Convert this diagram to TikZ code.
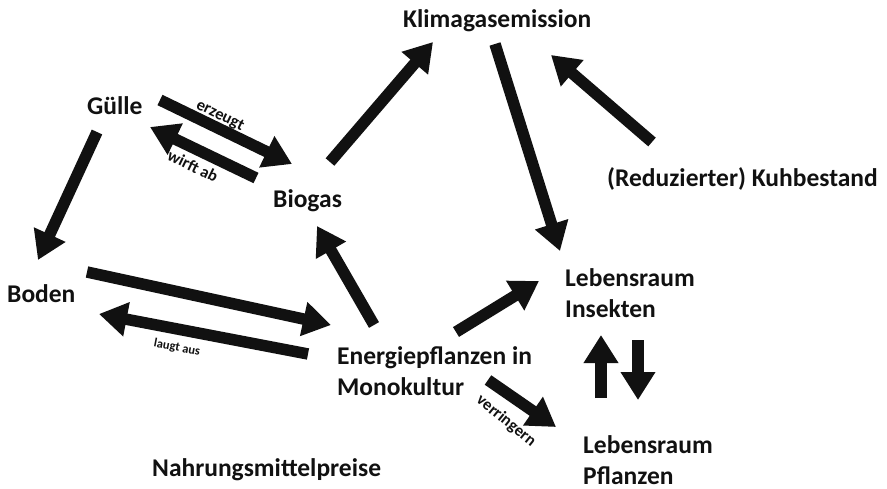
\documentclass[tikz,border=0pt]{standalone}
\usepackage{fontspec}
\setmainfont{Carlito}
\usetikzlibrary{arrows.meta}
\definecolor{ink}{HTML}{111111}
\tikzset{
  lbl/.style={font=\bfseries\fontsize{25.5}{31}\selectfont, text=ink, inner sep=0pt, align=left, anchor=base west},
  small/.style={font=\bfseries\fontsize{16.5}{17}\selectfont, text=ink, inner sep=0pt},
  bigarrow/.style={draw=ink, line width=11.5pt, -{Triangle[length=28pt,width=33pt]}},
}
\begin{document}
\begin{tikzpicture}[x=1pt,y=-1pt]
\useasboundingbox[fill=white] (0,0) rectangle (887,488);
% nodes (two-line nodes are placed by the baseline of their last line)
\node[lbl] (klima) at (403,27) {Klimagasemission};
\node[lbl] (guelle) at (87,114) {Gülle};
\node[lbl] (biogas) at (273,207) {Biogas};
\node[lbl] (kuh) at (607,186) {(Reduzierter) Kuhbestand};
\node[lbl] (insekten) at (565,317) {Lebensraum\\Insekten};
\node[lbl] (boden) at (7,302) {Boden};
\node[lbl] (energie) at (337,395) {Energiepflanzen in\\Monokultur};
\node[lbl] (pflanzen) at (583,484) {Lebensraum\\Pflanzen};
\node[lbl] (nahrung) at (152,476) {Nahrungsmittelpreise};
% arrow end points
\coordinate (g1) at (97,132);   \coordinate (b1) at (38,260);
\coordinate (g2) at (160,100);  \coordinate (bg2) at (292,164);
\coordinate (bg3) at (256,178); \coordinate (g3) at (150,127);
\coordinate (bg4) at (330,162); \coordinate (k4) at (433,42);
\coordinate (k5) at (495,44);   \coordinate (i5) at (560,251);
\coordinate (ku6) at (652,142); \coordinate (k6) at (551,55);
\coordinate (bo7) at (87,272);  \coordinate (e7) at (331,325);
\coordinate (e8) at (308,354);  \coordinate (bo8) at (99,314);
\coordinate (e9) at (374,325);  \coordinate (bg9) at (317,226);
\coordinate (e10) at (456,332); \coordinate (i10) at (539,281);
\coordinate (e11) at (488,380); \coordinate (p11) at (556,427);
\coordinate (p12) at (601,398); \coordinate (i12) at (601,335);
\coordinate (i13) at (638,340); \coordinate (p13) at (638,400);
% arrows
\draw[bigarrow] (g1) -- (b1);
\draw[bigarrow] (g2) -- (bg2);
\draw[bigarrow] (bg3) -- (g3);
\draw[bigarrow] (bg4) -- (k4);
\draw[bigarrow] (k5) -- (i5);
\draw[bigarrow] (ku6) -- (k6);
\draw[bigarrow] (bo7) -- (e7);
\draw[bigarrow] (e8) -- (bo8);
\draw[bigarrow] (e9) -- (bg9);
\draw[bigarrow] (e10) -- (i10);
\draw[bigarrow] (e11) -- (p11);
\draw[bigarrow] (p12) -- (i12);
\draw[bigarrow] (i13) -- (p13);
% edge labels
\node[small,rotate=-26] (erz) at (220,116) {erzeugt};
\node[small,rotate=-26] (wirft) at (193,166) {wirft ab};
\node[small,rotate=-11,font=\bfseries\fontsize{12.5}{13}\selectfont] (laugt) at (177,348) {laugt aus};
\node[small,rotate=-39] (verr) at (506,421) {verringern};
\end{tikzpicture}
\end{document}
